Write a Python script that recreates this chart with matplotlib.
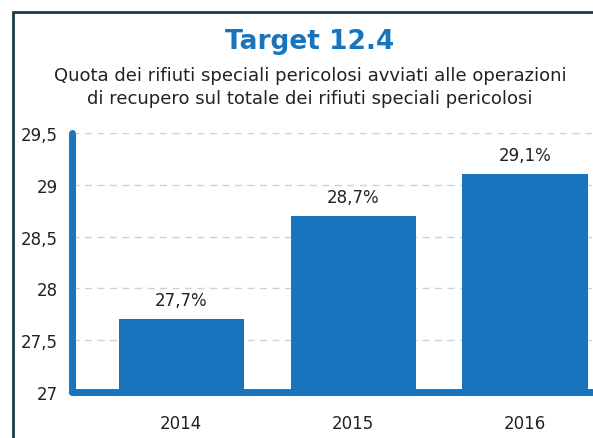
import matplotlib.pyplot as plt
from matplotlib.patches import Rectangle
from matplotlib.ticker import FuncFormatter

anni = ["2014", "2015", "2016"]
quota = [27.7, 28.7, 29.1]
etichette = ["27,7%", "28,7%", "29,1%"]
y_ticks = [27, 27.5, 28, 28.5, 29, 29.5]

blu = "#1875bd"
W, H = 593, 439

fig = plt.figure(figsize=(W / 100, H / 100), dpi=100)

# cornice esterna (taglia fuori a destra e in basso)
fig.patches.append(Rectangle((12.5 / W, -0.1), 1.2, 1 - 12.5 / H + 0.1,
                             transform=fig.transFigure, fill=False,
                             edgecolor="#1b3a4b", linewidth=2))

fig.text(310 / W, 1 - 42 / H, "Target 12.4", ha="center", va="center",
         fontsize=19, fontweight="bold", color=blu)
fig.text(310 / W, 1 - 87.5 / H,
         "Quota dei rifiuti speciali pericolosi avviati alle operazioni\n"
         "di recupero sul totale dei rifiuti speciali pericolosi",
         ha="center", va="center", fontsize=13, color="#222222",
         linespacing=1.35)

# assi: x da 72 px a oltre il bordo, y da 134 a 393 px
left, right = 72 / W, 610 / W
bottom, top = 1 - 393 / H, 1 - 134 / H
ax = fig.add_axes([left, bottom, right - left, top - bottom])

x = list(range(len(anni)))
ax.bar(x, quota, width=0.727, color=blu, bottom=0, zorder=2)
ax.set_ylim(27, 29.5)
ax.set_xlim(-0.634, 2 + (610 - 525) / 172)

for xi, v, t in zip(x, quota, etichette):
    ax.text(xi, v + 0.1, t, ha="center", va="bottom", fontsize=12, color="#222222")

ax.set_yticks(y_ticks)
ax.yaxis.set_major_formatter(FuncFormatter(lambda v, p: f"{v:g}".replace(".", ",")))
ax.set_xticks(x)
ax.set_xticklabels(anni)
ax.tick_params(axis="both", length=0, labelsize=12, labelcolor="#222222")
ax.tick_params(axis="y", pad=10)
ax.tick_params(axis="x", pad=16)

ax.grid(axis="y", color="#d0d0d0", linestyle=(0, (5, 4)), linewidth=1, zorder=0)
for s in ["top", "right"]:
    ax.spines[s].set_visible(False)
for s in ["left", "bottom"]:
    ax.spines[s].set_color(blu)
    ax.spines[s].set_linewidth(5)
    ax.spines[s].set_capstyle("round")
    ax.spines[s].set_zorder(3)

fig.savefig("out.png", dpi=100)
